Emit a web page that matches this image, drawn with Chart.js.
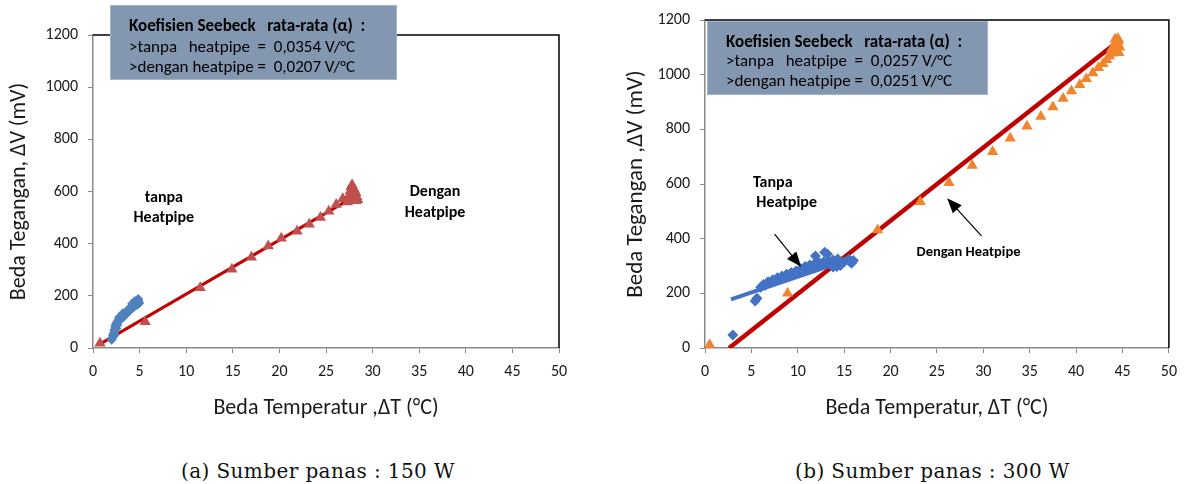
<!DOCTYPE html>
<html>
<head>
<meta charset="utf-8">
<script src="https://cdn.jsdelivr.net/npm/chart.js@4.4.1/dist/chart.umd.min.js"></script>
<style>
  body { margin: 0; background: #fff; width: 1186px; height: 484px; position: relative; overflow: hidden; }
  .panel { position: absolute; top: 0; height: 440px; }
  #left { left: 0; width: 590px; }
  #right { left: 590px; width: 596px; }
  .caption { position: absolute; top: 459px; font: 20px 'DejaVu Serif', serif; letter-spacing: 0.4px; color: #111; white-space: pre; }
</style>
</head>
<body>
<div class="panel" id="left"><canvas id="chart150"></canvas></div>
<div class="panel" id="right"><canvas id="chart300"></canvas></div>
<div class="caption" style="left:181px">(a) Sumber panas : 150 W</div>
<div class="caption" style="left:795px">(b) Sumber panas : 300 W</div>
<script>
// tick labels
const tempTicks = [0, 5, 10, 15, 20, 25, 30, 35, 40, 45, 50];
const voltTicks = [0, 200, 400, 600, 800, 1000, 1200];

// (a) 150 W : [dT, dV]
const tanpa150 = [
  [2.0, 32], [2.1, 40], [2.15, 48], [2.2, 55], [2.3, 62], [2.3, 70], [2.4, 78], [2.4, 86],
  [2.5, 94], [2.6, 100], [2.7, 105], [2.8, 110], [2.9, 114], [3.0, 118], [3.1, 121], [3.2, 125],
  [3.3, 128], [3.4, 132], [3.5, 136], [3.6, 139], [3.7, 143], [3.8, 147], [3.9, 150], [4.0, 154],
  [4.1, 157], [4.2, 161], [4.3, 165], [4.4, 168], [4.5, 171], [4.6, 175], [4.7, 179], [4.8, 183],
  [4.85, 188], [4.9, 178], [4.95, 172], [4.8, 168], [4.6, 163], [4.4, 158], [4.2, 152],
  [2.6, 88], [2.5, 75], [2.3, 50], [3.0, 110], [3.3, 120], [3.6, 131], [3.9, 142], [4.2, 170],
  [4.5, 180], [2.8, 118], [3.2, 133]
];
const dengan150 = [
  [0.75, 18], [5.6, 101], [11.5, 231], [14.9, 302], [17.0, 348], [18.8, 391], [20.2, 421],
  [21.9, 448], [23.2, 474], [24.4, 500], [25.3, 524], [26.1, 550], [26.8, 572], [27.3, 560],
  [27.5, 585], [27.6, 602], [27.7, 618], [27.8, 625], [27.9, 605], [28.0, 590], [28.1, 575],
  [28.2, 565], [28.3, 580], [28.4, 568], [27.7, 572], [28.0, 610], [28.2, 595]
];
const trend150 = [[0.6, 12], [28.4, 588]];

// (b) 300 W : [dT, dV]
const tanpa300 = [
  [3.0, 48], [5.4, 172], [5.6, 182],
  [6.0, 222], [6.5, 230], [7.0, 238], [7.5, 245], [8.0, 252], [8.5, 258], [9.0, 263], [9.5, 268],
  [10.0, 274], [10.5, 281], [11.0, 289], [11.5, 295], [12.0, 300], [12.5, 303], [13.0, 306],
  [13.5, 308], [14.0, 310], [14.5, 312], [15.0, 316], [15.5, 318], [16.0, 320],
  [6.3, 232], [6.8, 242], [7.3, 250], [7.8, 257], [8.3, 263], [8.8, 270], [9.3, 276], [9.8, 282],
  [10.3, 290], [10.8, 298], [11.3, 304], [11.8, 308], [12.3, 312], [12.8, 316], [13.3, 318],
  [13.8, 322], [14.3, 326],
  [11.9, 337], [12.9, 350], [13.2, 344], [14.2, 298], [14.6, 302], [15.5, 325], [15.8, 310], [13.8, 296]
];
const dengan300 = [
  [0.5, 12], [8.9, 200], [18.6, 432], [23.2, 535], [26.3, 605], [28.8, 668], [31.0, 718],
  [32.9, 767], [34.7, 811], [36.2, 847], [37.5, 882], [38.6, 913], [39.5, 940], [40.4, 963],
  [41.1, 985], [41.8, 1006], [42.4, 1025], [42.9, 1040], [43.3, 1055], [43.6, 1068], [43.9, 1078],
  [44.1, 1088], [44.3, 1095], [44.4, 1105], [44.5, 1115], [44.6, 1125], [44.5, 1132], [44.3, 1120],
  [44.2, 1108], [44.7, 1100], [44.4, 1085], [44.6, 1080], [44.0, 1100], [43.8, 1092], [44.2, 1130]
];
const trendTanpa300 = [[2.8, 178], [16.0, 330]];
const trendDengan300 = [[2.6, 0], [44.6, 1124]];

const FONT = "Carlito, Lato, 'Open Sans', sans-serif";
const pts = arr => arr.map(([x, y]) => ({x, y}));

// garis atas dan kanan area plot
const plotFrame = {
  id: 'plotFrame',
  beforeDatasetsDraw(chart) {
    const {ctx, chartArea: a} = chart;
    ctx.save();
    ctx.strokeStyle = '#000';
    ctx.lineWidth = 1.5;
    ctx.beginPath();
    ctx.moveTo(a.left, a.top);
    ctx.lineTo(a.right, a.top);
    ctx.lineTo(a.right, a.bottom);
    ctx.stroke();
    ctx.restore();
  }
};

// kotak koefisien, teks dan panah
const notes = {
  id: 'notes',
  afterDraw(chart, args, opts) {
    const {ctx, scales: {x, y}} = chart;
    ctx.save();
    const b = opts.box;
    ctx.fillStyle = '#8497B0';
    ctx.fillRect(b.left, b.top, b.width, b.height);
    ctx.strokeStyle = '#a3b3c8';
    ctx.lineWidth = 1;
    ctx.strokeRect(b.left + 0.5, b.top + 0.5, b.width - 1, b.height - 1);
    ctx.fillStyle = '#000';
    ctx.textBaseline = 'middle';
    ctx.textAlign = 'left';
    b.lines.forEach((t, i) => {
      ctx.font = (i === 0 ? 'bold ' : '') + b.size + 'px ' + FONT;
      ctx.fillText(t, b.textX, b.lineY[i]);
    });
    ctx.textAlign = 'center';
    (opts.labels || []).forEach(l => {
      ctx.font = 'bold ' + l.size + 'px ' + FONT;
      ctx.fillText(l.text, x.getPixelForValue(l.at[0]), y.getPixelForValue(l.at[1]));
    });
    (opts.arrows || []).forEach(([from, to]) => {
      const x0 = x.getPixelForValue(from[0]), y0 = y.getPixelForValue(from[1]);
      const x1 = x.getPixelForValue(to[0]), y1 = y.getPixelForValue(to[1]);
      const ang = Math.atan2(y1 - y0, x1 - x0);
      ctx.strokeStyle = '#000';
      ctx.lineWidth = 1.2;
      ctx.beginPath();
      ctx.moveTo(x0, y0);
      ctx.lineTo(x1 - 10 * Math.cos(ang), y1 - 10 * Math.sin(ang));
      ctx.stroke();
      ctx.beginPath();
      ctx.moveTo(x1, y1);
      ctx.lineTo(x1 - 15 * Math.cos(ang) + 6 * Math.sin(ang), y1 - 15 * Math.sin(ang) - 6 * Math.cos(ang));
      ctx.lineTo(x1 - 15 * Math.cos(ang) - 6 * Math.sin(ang), y1 - 15 * Math.sin(ang) + 6 * Math.cos(ang));
      ctx.closePath();
      ctx.fill();
    });
    ctx.restore();
  }
};

function makeScales(p) {
  const axisCommon = {
    type: 'linear',
    grid: { drawOnChartArea: false, drawTicks: true, tickLength: 5, color: '#898989' },
    border: { color: '#898989', width: 1.5 },
    ticks: { color: '#1a1a1a', font: { family: FONT, size: p.tickSize }, callback: v => String(v) }
  };
  return {
    x: {
      ...axisCommon,
      min: 0, max: 50,
      afterBuildTicks: s => { s.ticks = tempTicks.map(v => ({value: v})); },
      ticks: { ...axisCommon.ticks, padding: 9 },
      title: { display: true, text: p.xTitle, color: '#1a1a1a',
               font: { family: FONT, size: p.titleSize }, padding: { top: 0, bottom: p.xTitlePad } },
      afterFit: s => { s.height = p.xHeight; }
    },
    y: {
      ...axisCommon,
      min: 0, max: 1200,
      afterBuildTicks: s => { s.ticks = voltTicks.map(v => ({value: v})); },
      ticks: { ...axisCommon.ticks, padding: 10 },
      title: { display: true, text: p.yTitle, color: '#1a1a1a',
               font: { family: FONT, size: p.yTitleSize }, padding: { top: p.yTitlePad, bottom: 0 } },
      afterFit: s => { s.width = p.yWidth; }
    }
  };
}

new Chart(document.getElementById('chart150'), {
  type: 'scatter',
  data: {
    datasets: [
      { label: 'tanpa heatpipe', data: pts(tanpa150), pointStyle: 'rectRot', pointRadius: 5,
        backgroundColor: '#4F81BD', borderColor: '#4F81BD', borderWidth: 0 },
      { label: 'dengan heatpipe', data: pts(dengan150), pointStyle: 'triangle', pointRadius: 6.5,
        backgroundColor: '#C0504D', borderColor: '#C0504D', borderWidth: 0 },
      { label: 'trend dengan', data: pts(trend150), showLine: true, pointRadius: 0,
        borderColor: '#C00000', borderWidth: 3 }
    ]
  },
  options: {
    responsive: true,
    maintainAspectRatio: false,
    animation: false,
    layout: { padding: { left: 0, right: 31, top: 35, bottom: 0 } },
    scales: makeScales({ tickSize: 16, titleSize: 22, yTitleSize: 22,
      xTitle: 'Beda Temperatur ,\u0394T (\u00B0C)', yTitle: 'Beda Tegangan, \u0394V (mV)',
      xHeight: 92, xTitlePad: 18, yWidth: 93, yTitlePad: 6 }),
    plugins: {
      legend: { display: false },
      tooltip: { enabled: false },
      notes: {
        box: { left: 110, top: 5, width: 287, height: 75, textX: 129, lineY: [27, 48, 68], size: 17,
               lines: ['Koefisien Seebeck   rata-rata (\u03B1)  :',
                       '>tanpa   heatpipe  =  0,0354 V/\u00B0C',
                       '>dengan heatpipe =  0,0207 V/\u00B0C'] },
        labels: [
          { text: 'tanpa', at: [7.6, 575], size: 16 },
          { text: 'Heatpipe', at: [7.6, 498], size: 16 },
          { text: 'Dengan', at: [36.7, 598], size: 16 },
          { text: 'Heatpipe', at: [36.7, 518], size: 16 }
        ]
      }
    }
  },
  plugins: [plotFrame, notes]
});

new Chart(document.getElementById('chart300'), {
  type: 'scatter',
  data: {
    datasets: [
      { label: 'dengan heatpipe', data: pts(dengan300), pointStyle: 'triangle', pointRadius: 6.5,
        backgroundColor: '#F0852D', borderColor: '#F0852D', borderWidth: 0 },
      { label: 'tanpa heatpipe', data: pts(tanpa300), pointStyle: 'rectRot', pointRadius: 5.5,
        backgroundColor: '#4472C4', borderColor: '#4472C4', borderWidth: 0 },
      { label: 'trend tanpa', data: pts(trendTanpa300), showLine: true, pointRadius: 0,
        borderColor: '#4472C4', borderWidth: 4 },
      { label: 'trend dengan', data: pts(trendDengan300), showLine: true, pointRadius: 0,
        borderColor: '#C00000', borderWidth: 4.5 }
    ]
  },
  options: {
    responsive: true,
    maintainAspectRatio: false,
    animation: false,
    layout: { padding: { left: 0, right: 16, top: 20, bottom: 0 } },
    scales: makeScales({ tickSize: 16, titleSize: 22, yTitleSize: 23,
      xTitle: 'Beda Temperatur, \u0394T (\u00B0C)', yTitle: 'Beda Tegangan ,\u0394V (mV)',
      xHeight: 92, xTitlePad: 18, yWidth: 115, yTitlePad: 32 }),
    plugins: {
      legend: { display: false },
      tooltip: { enabled: false },
      notes: {
        box: { left: 117, top: 21, width: 281, height: 74, textX: 136, lineY: [43, 62, 82], size: 17,
               lines: ['Koefisien Seebeck   rata-rata (\u03B1)  :',
                       '>tanpa   heatpipe  =  0,0257 V/\u00B0C',
                       '>dengan heatpipe =  0,0251 V/\u00B0C'] },
        labels: [
          { text: 'Tanpa', at: [7.3, 604], size: 16 },
          { text: 'Heatpipe', at: [8.8, 531], size: 16 },
          { text: 'Dengan Heatpipe', at: [28.4, 351], size: 14.5 }
        ],
        arrows: [
          [[7.5, 417], [10.36, 297]],
          [[29.8, 410], [26.1, 548]]
        ]
      }
    }
  },
  plugins: [plotFrame, notes]
});
</script>
</body>
</html>
